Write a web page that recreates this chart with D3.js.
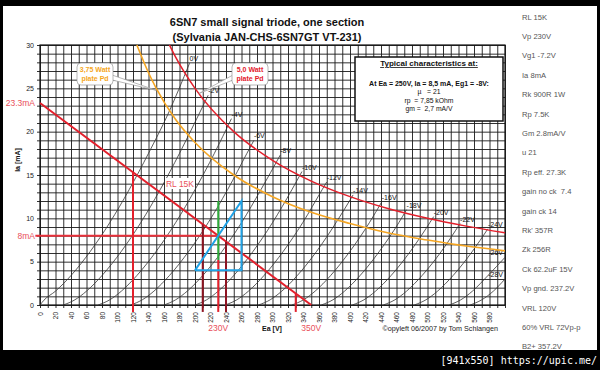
<!DOCTYPE html>
<html lang="en">
<head>
<meta charset="UTF-8">
<title>6SN7 plate curves</title>
<script src="https://cdn.jsdelivr.net/npm/d3@7"></script>
<style>
    body {
        margin: 0;
        background: #000;
        font-family: Arial, "Liberation Sans", sans-serif;
    }
    svg { display: block; }
</style>
</head>
<body>
<svg id="chart" width="600" height="370"></svg>
<script>
// grid bias curves, [Ea in V, Ia in mA]
const biasNames = ["0V", "-2V", "-4V", "-6V", "-8V", "-10V", "-12V", "-14V", "-16V", "-18V", "-20V", "-22V", "-24V", "-26V", "-28V"];
const biasCurves = [
    [[0, 0], [5, 0.55], [20, 1.6], [40, 3.4], [65, 6.2], [90, 9.5], [115, 13.3], [140, 17.5], [165, 22.0], [193, 27.9]],
    [[30, 0], [45, 0.6], [60, 1.6], [80, 3.4], [105, 6.2], [130, 9.5], [155, 13.3], [180, 17.5], [205, 22.0], [217, 24.2]],
    [[75, 0], [90, 0.6], [105, 1.6], [125, 3.4], [150, 6.2], [175, 9.5], [200, 13.3], [225, 17.5], [247, 21.5]],
    [[117, 0], [132, 0.6], [147, 1.6], [167, 3.4], [192, 6.2], [217, 9.5], [242, 13.3], [267, 17.5], [276, 19.0]],
    [[160, 0], [175, 0.6], [190, 1.6], [210, 3.4], [235, 6.2], [260, 9.5], [285, 13.3], [310, 17.3]],
    [[200, 0], [215, 0.6], [230, 1.6], [250, 3.4], [275, 6.2], [300, 9.5], [325, 13.3], [338, 15.4]],
    [[239, 0], [254, 0.6], [269, 1.6], [289, 3.4], [314, 6.2], [339, 9.5], [364, 13.3], [370, 14.2]],
    [[282, 0], [297, 0.6], [312, 1.6], [332, 3.4], [357, 6.2], [382, 9.5], [404, 12.7]],
    [[325, 0], [340, 0.6], [355, 1.6], [375, 3.4], [400, 6.2], [425, 9.5], [441, 11.9]],
    [[363, 0], [378, 0.6], [393, 1.6], [413, 3.4], [438, 6.2], [463, 9.5], [473, 11.0]],
    [[403, 0], [418, 0.6], [433, 1.6], [453, 3.4], [478, 6.2], [503, 9.5], [508, 10.2]],
    [[443, 0], [458, 0.6], [473, 1.6], [493, 3.4], [518, 6.2], [542, 9.4]],
    [[483, 0], [498, 0.6], [513, 1.6], [533, 3.4], [558, 6.2], [578, 8.8]],
    [[528, 0], [543, 0.6], [558, 1.6], [578, 3.4], [600, 5.5]],
    [[555, 0], [570, 0.6], [585, 1.6], [600, 3.0]]
];

// max plate dissipation curves
const pd375 = [[125, 30], [140, 26.8], [150, 25], [175, 21.4], [200, 18.75], [250, 15], [300, 12.5], [350, 10.7], [400, 9.4], [450, 8.3], [500, 7.5], [550, 6.8], [600, 6.25]];
const pd500 = [[167, 30], [175, 28.6], [200, 25], [250, 20], [300, 16.7], [350, 14.3], [400, 12.5], [450, 11.1], [500, 10], [550, 9.1], [600, 8.33]];

// 15K load line and operating point construction
const loadLine = [[0, 23.3], [350, 0]];
const opCurrent = 8;
const opVoltage = 230;
const dropLines = [[120, 15.3], [210, 9.3], [230, 5.2], [240, 7.3], [330, 1.3]];
const dropDark = [false, true, false, true, false];
const gmLine = [[230, 5.2], [230, 12]];
const rpTriangle = [[200, 4], [260, 4], [260, 12], [200, 4]];

const yTicks = [0, 5, 10, 15, 20, 25, 30];

const typical = ["At Ea = 250V, Ia = 8,5 mA, Eg1 = -8V:", "\u00b5   = 21", "rp  = 7,85 kOhm", "gm =  2,7 mA/V"];
const notes = ["RL 15K", "Vp 230V", "Vg1 -7.2V", "Ia 8mA", "Rk 900R 1W", "Rp 7.5K", "Gm 2.8mA/V", "u 21", "Rp eff. 27.3K",
    "gain no ck  7.4", "gain ck 14", "Rk' 357R", "Zk 256R", "Ck 62.2uF 15V", "Vp gnd. 237.2V", "VRL 120V", "60% VRL 72Vp-p", "B2+ 357.2V"];

const svg = d3.select("#chart");

svg.append("rect").attr("x", 3).attr("y", 6).attr("width", 594).attr("height", 344).attr("fill", "#fff");

const x = d3.scaleLinear().domain([0, 600]).range([40, 505]);
const y = d3.scaleLinear().domain([0, 30]).range([305, 45]);

// grid via axes: long ticks act as grid, short overhang acts as tick marks
const gx = svg.append("g")
    .attr("transform", `translate(0,${y(0) + 3})`)
    .call(d3.axisBottom(x).tickValues(d3.range(0, 601, 10)).tickSize(-(y(0) - y(30) + 3)).tickPadding(4)
        .tickFormat(d => (d % 20 === 0 && d < 600) ? d : ""));
gx.select(".domain").remove();
gx.selectAll("line").attr("stroke", "#1a1a1a").attr("stroke-width", 0.9);
gx.selectAll("text")
    .attr("transform", "rotate(-90)")
    .attr("x", -4).attr("y", 0).attr("dy", "0.32em")
    .style("text-anchor", "end")
    .style("font-size", "6.5px").attr("fill", "#222");

const gy = svg.append("g")
    .attr("transform", `translate(${x(0) - 3},0)`)
    .call(d3.axisLeft(y).tickValues(d3.range(0, 31, 1)).tickSize(-(x(600) - x(0) + 3)).tickPadding(3)
        .tickFormat(d => yTicks.includes(d) ? d : ""));
gy.select(".domain").remove();
gy.selectAll("line").attr("stroke", "#1a1a1a").attr("stroke-width", 0.9);
gy.selectAll("text").style("font-size", "7px").attr("fill", "#222");

svg.append("rect")
    .attr("x", x(0)).attr("y", y(30)).attr("width", x(600) - x(0)).attr("height", y(0) - y(30))
    .attr("fill", "none").attr("stroke", "#111").attr("stroke-width", 1.2);

const line = d3.line().x(d => x(d[0])).y(d => y(d[1]));
const smooth = d3.line().x(d => x(d[0])).y(d => y(d[1])).curve(d3.curveMonotoneX);

// triode curves
svg.append("g").selectAll("path")
    .data(biasCurves)
    .join("path")
    .attr("d", smooth)
    .attr("fill", "none")
    .attr("stroke", "#333")
    .attr("stroke-width", 0.8);

svg.append("g").selectAll("text")
    .data(biasCurves)
    .join("text")
    .attr("x", (d, i) => i >= 13 ? x(600) - 2 : x(d[d.length - 1][0]))
    .attr("y", d => y(d[d.length - 1][1]) - 2)
    .attr("text-anchor", (d, i) => i >= 13 ? "end" : "start")
    .style("font-size", "7px")
    .attr("fill", "#111")
    .text((d, i) => biasNames[i]);

// plate dissipation
svg.append("path").datum(pd375).attr("d", smooth).attr("fill", "none").attr("stroke", "#f5a623").attr("stroke-width", 1.6);
svg.append("path").datum(pd500).attr("d", smooth).attr("fill", "none").attr("stroke", "#e3202c").attr("stroke-width", 1.5);

// load line and construction lines
svg.append("path").datum(loadLine).attr("d", line).attr("stroke", "#e3202c").attr("stroke-width", 2);

svg.append("line")
    .attr("x1", x(-6)).attr("x2", x(opVoltage))
    .attr("y1", y(opCurrent)).attr("y2", y(opCurrent))
    .attr("stroke", "#e8303a").attr("stroke-width", 2);

svg.append("g").selectAll("line")
    .data(dropLines)
    .join("line")
    .attr("x1", d => x(d[0])).attr("x2", d => x(d[0]))
    .attr("y1", d => y(d[1])).attr("y2", y(-0.8))
    .attr("stroke", (d, i) => dropDark[i] ? "#8e1422" : "#e3202c")
    .attr("stroke-width", 2);

svg.append("path").datum(gmLine).attr("d", line).attr("stroke", "#2eaa3a").attr("stroke-width", 2);
svg.append("path").datum(rpTriangle).attr("d", line).attr("fill", "none").attr("stroke", "#1fa2e6").attr("stroke-width", 2);

// red annotations
const red = "#e9505a";
svg.append("text").attr("x", 35).attr("y", y(23.3) + 3).attr("text-anchor", "end").style("font-size", "8.5px").attr("fill", red).text("23.3mA");
svg.append("text").attr("x", 35).attr("y", y(opCurrent) + 3).attr("text-anchor", "end").style("font-size", "8.5px").attr("fill", red).text("8mA");
svg.append("text").attr("x", x(230)).attr("y", 331).attr("text-anchor", "middle").style("font-size", "8.5px").attr("fill", red).text("230V");
svg.append("text").attr("x", x(350)).attr("y", 331).attr("text-anchor", "middle").style("font-size", "8.5px").attr("fill", red).text("350V");

const rl = svg.append("g").attr("transform", "translate(180,184)");
rl.append("rect").attr("x", -15).attr("y", -6).attr("width", 30).attr("height", 11).attr("fill", "#fff");
rl.append("text").attr("text-anchor", "middle").attr("dy", "0.35em").style("font-size", "8.5px").attr("fill", red).text("RL 15K");

// axis titles
svg.append("text").attr("x", 272).attr("y", 331).attr("text-anchor", "middle").style("font-size", "7px").style("font-weight", "bold").attr("fill", "#111").text("Ea [V]");
svg.append("text").attr("transform", "translate(20,160) rotate(-90)").attr("text-anchor", "middle").style("font-size", "7px").style("font-weight", "bold").attr("fill", "#111").text("Ia [mA]");
svg.append("text").attr("x", 498).attr("y", 331).attr("text-anchor", "end").style("font-size", "7.2px").attr("fill", "#222").text("\u00a9opyleft 06/2007 by Tom Schlangen");

// title
svg.append("text").attr("x", 267).attr("y", 26).attr("text-anchor", "middle").style("font-size", "11px").style("font-weight", "bold").attr("fill", "#111").text("6SN7 small signal triode, one section");
svg.append("text").attr("x", 267).attr("y", 41).attr("text-anchor", "middle").style("font-size", "11px").style("font-weight", "bold").attr("fill", "#111").text("(Sylvania JAN-CHS-6SN7GT VT-231)");

// callouts for the dissipation curves
function callout(bx, by, tip, side, color, lines) {
    const g = svg.append("g");
    const w = 36, h = 22;
    const ax = side === "right" ? bx + w - 1 : bx + 1;
    g.append("path")
        .attr("d", `M${ax},${by + 12}L${tip[0]},${tip[1]}L${ax},${by + 17}Z`)
        .attr("fill", "#fff").attr("stroke", "#999").attr("stroke-width", 0.7);
    g.append("rect").attr("x", bx).attr("y", by).attr("width", w).attr("height", h).attr("rx", 4)
        .attr("fill", "#fff").attr("stroke", "#999").attr("stroke-width", 0.7);
    g.selectAll("text").data(lines).join("text")
        .attr("x", bx + w / 2).attr("y", (d, i) => by + 9 + i * 8.5)
        .attr("text-anchor", "middle").style("font-size", "7px").style("font-weight", "bold")
        .attr("fill", color).text(d => d);
}
callout(77, 63, [x(150), y(25) + 2], "right", "#f5a623", ["3,75 Watt", "plate Pd"]);
callout(232, 63, [x(205), y(24.4)], "left", "#e3202c", ["5,0 Watt", "plate Pd"]);

// typical characteristics box
const box = svg.append("g");
box.append("rect").attr("x", 355).attr("y", 57).attr("width", 148).attr("height", 64)
    .attr("fill", "#fff").attr("stroke", "#111").attr("stroke-width", 1.5);
box.append("text").attr("x", 429).attr("y", 66).attr("text-anchor", "middle")
    .style("font-size", "8px").style("font-weight", "bold").style("text-decoration", "underline")
    .attr("fill", "#111").text("Typical characteristics at:");
box.selectAll(".tc").data(typical).join("text")
    .attr("class", "tc")
    .attr("x", 429).attr("y", (d, i) => 85.5 + i * 8.5)
    .attr("text-anchor", "middle").style("font-size", (d, i) => i === 0 ? "7px" : "6.8px")
    .style("font-weight", (d, i) => i === 0 ? "bold" : "normal")
    .style("white-space", "pre")
    .attr("fill", "#111").text(d => d);

// design notes on the right
svg.append("g").selectAll("text")
    .data(notes)
    .join("text")
    .attr("x", 522)
    .attr("y", (d, i) => 19.5 + i * 19.4)
    .style("font-size", "7.6px")
    .style("white-space", "pre")
    .attr("fill", "#555")
    .text(d => d);

// host watermark in the black strip
svg.append("text").attr("x", 597).attr("y", 364).attr("text-anchor", "end")
    .style("font-family", "'DejaVu Sans Mono', monospace").style("font-size", "10px")
    .attr("fill", "#fff").text("[941x550] https://upic.me/");
</script>
</body>
</html>
